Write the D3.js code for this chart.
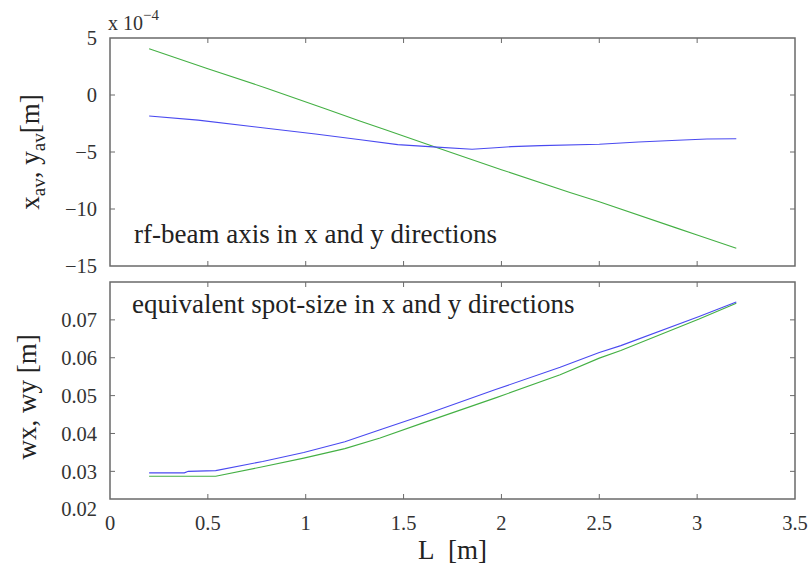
<!DOCTYPE html>
<html>
<head>
<meta charset="utf-8">
<script src="https://cdn.jsdelivr.net/npm/d3@7"></script>
<style>
  html, body { margin: 0; padding: 0; background: #fff; }
  svg { display: block; }
  text { font-family: "Liberation Serif", "DejaVu Serif", serif; fill: #222; }
</style>
</head>
<body>
<svg id="chart" width="809" height="572"></svg>
<script>
// Beam position along the line L [m]
const axisL_x = [0.2, 0.45, 0.8, 1.05, 1.28, 1.47, 1.65, 1.85, 1.95, 2.05, 2.2, 2.5, 2.7, 2.9, 3.05, 3.2];
const axisX = [-1.84, -2.2, -2.92, -3.42, -3.92, -4.35, -4.55, -4.76, -4.65, -4.53, -4.44, -4.32, -4.12, -3.97, -3.86, -3.84];
const axisL_y = [0.2, 0.5, 0.8, 1.1, 1.28, 1.4, 1.65, 2.0, 2.35, 2.5, 2.9, 3.0, 3.2];
const axisY = [4.05, 2.3, 0.6, -1.2, -2.3, -3.0, -4.5, -6.55, -8.55, -9.36, -11.7, -12.28, -13.45];

// Equivalent spot size along the line
const spotL_x = [0.2, 0.38, 0.4, 0.54, 0.78, 0.99, 1.2, 1.38, 1.6, 1.97, 2.3, 2.5, 2.61, 3.01, 3.2];
const spotX = [0.0296, 0.0296, 0.0300, 0.0302, 0.0326, 0.0350, 0.0378, 0.0410, 0.0448, 0.0516, 0.0575, 0.0614, 0.0632, 0.0709, 0.0747];
const spotL_y = [0.2, 0.54, 0.78, 0.99, 1.2, 1.38, 1.6, 1.97, 2.3, 2.5, 2.61, 3.01, 3.2];
const spotY = [0.0287, 0.0287, 0.0312, 0.0335, 0.0360, 0.0388, 0.0428, 0.0494, 0.0555, 0.0599, 0.0619, 0.0702, 0.0744];

const xTicks = [0, 0.5, 1, 1.5, 2, 2.5, 3, 3.5];
const topTicks = [5, 0, -5, -10, -15];
const botTicks = [0.02, 0.03, 0.04, 0.05, 0.06, 0.07];

const blue = "#4a4af0", green = "#44b044", frameCol = "#6a6a6a";

const svg = d3.select("#chart");
const left = 110, right = 795;
const x = d3.scaleLinear().domain([0, 3.5]).range([left, right]);
const yTop = d3.scaleLinear().domain([-15, 5]).range([266, 38]);
const yBot = d3.scaleLinear().domain([0.0227, 0.08]).range([499, 282]);

function panel(y, yt, showX) {
  const [y0, y1] = y.range();
  const g = svg.append("g");
  // inner ticks on all four sides
  const inner = xTicks.filter(v => v > 0 && v < 3.5);
  const yin = yt.filter(v => y(v) < y0 - 1 && y(v) > y1 + 1);
  g.selectAll(".tb").data(inner).join("line")
    .attr("x1", d => x(d)).attr("x2", d => x(d)).attr("y1", y0).attr("y2", y0 - 5)
    .attr("stroke", frameCol);
  g.selectAll(".tt").data(inner).join("line")
    .attr("x1", d => x(d)).attr("x2", d => x(d)).attr("y1", y1).attr("y2", y1 + 5)
    .attr("stroke", frameCol);
  g.selectAll(".tl").data(yin).join("line")
    .attr("x1", left).attr("x2", left + 5).attr("y1", d => y(d)).attr("y2", d => y(d))
    .attr("stroke", frameCol);
  g.selectAll(".tr").data(yin).join("line")
    .attr("x1", right).attr("x2", right - 5).attr("y1", d => y(d)).attr("y2", d => y(d))
    .attr("stroke", frameCol);
  // tick labels
  g.selectAll(".yl").data(yt).join("text")
    .attr("x", 97).attr("y", d => y(d)).attr("dy", "0.35em")
    .attr("text-anchor", "end").attr("font-size", 20.5).style("fill", "#333")
    .text(d => d < 0 ? "\u2212" + Math.abs(d) : String(d));
  if (showX) {
    g.selectAll(".xl").data(xTicks).join("text")
      .attr("x", d => x(d)).attr("y", 530)
      .attr("text-anchor", "middle").attr("font-size", 20.5).style("fill", "#333")
      .text(d => String(d));
  }
  // frame
  g.append("rect").attr("x", left).attr("y", y1).attr("width", right - left).attr("height", y0 - y1)
    .attr("fill", "none").attr("stroke", frameCol).attr("stroke-width", 1.5);
  return g;
}

panel(yTop, topTicks, false);
panel(yBot, botTicks, true);

function drawLine(xs, ys, y, col) {
  const pts = xs.map((d, i) => [d, ys[i]]);
  svg.append("path").datum(pts)
    .attr("fill", "none").attr("stroke", col).attr("stroke-width", 1.1)
    .attr("d", d3.line().x(d => x(d[0])).y(d => y(d[1])));
}

drawLine(axisL_y, axisY, yTop, green);
drawLine(axisL_x, axisX, yTop, blue);
drawLine(spotL_y, spotY, yBot, green);
drawLine(spotL_x, spotX, yBot, blue);

// exponent label
const ex = svg.append("text").attr("x", 108).attr("y", 30).attr("font-size", 20).style("fill", "#333");
ex.append("tspan").text("x 10");
ex.append("tspan").attr("dy", -10).attr("font-size", 15).text("\u22124");

// panel annotations
svg.append("text").attr("x", 134).attr("y", 243).attr("font-size", 27)
  .text("rf-beam axis in x and y directions");
svg.append("text").attr("x", 132).attr("y", 313).attr("font-size", 27)
  .text("equivalent spot-size in x and y directions");

// axis titles
const t1 = svg.append("text").attr("transform", "translate(39,152) rotate(-90)")
  .attr("text-anchor", "middle").attr("font-size", 27);
t1.append("tspan").text("x");
t1.append("tspan").attr("dy", 6).attr("font-size", 19).text("av");
t1.append("tspan").attr("dy", -6).text(", y");
t1.append("tspan").attr("dy", 6).attr("font-size", 19).text("av");
t1.append("tspan").attr("dy", -6).text("[m]");

svg.append("text").attr("transform", "translate(36,397) rotate(-90)")
  .attr("text-anchor", "middle").attr("font-size", 27).text("wx, wy [m]");

svg.append("text").attr("x", (left + right) / 2).attr("y", 559)
  .attr("text-anchor", "middle").attr("font-size", 27).text("L\u00a0\u00a0[m]");
</script>
</body>
</html>
